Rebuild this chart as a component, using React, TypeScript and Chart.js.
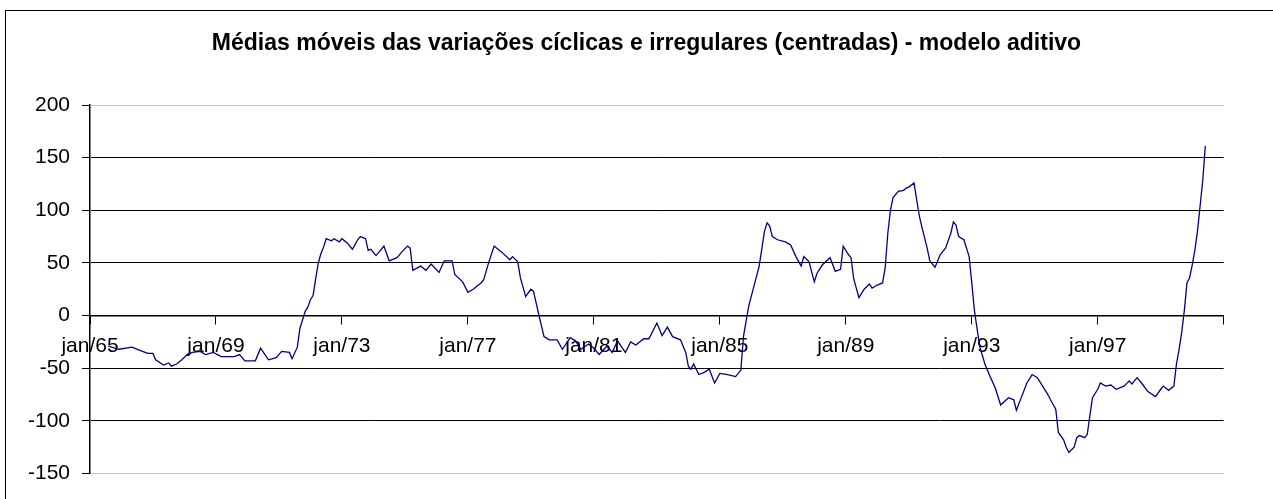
import React, { useEffect, useRef } from 'react';
import { Chart, registerables } from 'chart.js';

Chart.register(...registerables);

const TITLE = 'Médias móveis das variações cíclicas e irregulares (centradas) - modelo aditivo';

// x tick labels, one every 48 months starting jan/65
const tickLabels = ['jan/65', 'jan/69', 'jan/73', 'jan/77', 'jan/81', 'jan/85', 'jan/89', 'jan/93', 'jan/97', ''];

// month index counted from jan/65 (0)
const months = [7, 11, 16, 19, 22, 24, 25, 28, 30, 31, 33, 35, 37, 39, 42, 44, 47, 50, 52, 55, 57, 59, 63, 65, 68, 71, 73, 76, 77, 79, 80, 81, 82, 83, 84, 85, 86, 87, 88, 89, 90, 92, 93, 95, 96, 98, 100, 102, 103, 105, 106, 107, 109, 112, 114, 117, 119, 121, 122, 123, 126, 128, 130, 133, 135, 138, 139, 142, 144, 146, 149, 150, 152, 154, 157, 160, 161, 163, 164, 166, 168, 169, 170, 171, 173, 175, 178, 180, 183, 185, 187, 190, 192, 194, 197, 199, 201, 204, 206, 208, 211, 213, 216, 218, 220, 222, 225, 227, 228, 229, 230, 232, 234, 236, 238, 240, 243, 246, 248, 249, 251, 253, 255, 257, 258, 259, 260, 262, 265, 267, 269, 271, 272, 274, 276, 277, 279, 282, 284, 286, 287, 289, 290, 291, 293, 295, 297, 298, 300, 302, 303, 304, 305, 306, 308, 310, 311, 312, 314, 315, 316, 317, 319, 320, 322, 324, 326, 328, 329, 330, 331, 333, 335, 336, 337, 339, 341, 343, 345, 347, 350, 352, 353, 355, 357, 359, 361, 363, 365, 366, 368, 369, 371, 372, 373, 375, 376, 377, 379, 380, 381, 382, 384, 385, 387, 389, 391, 394, 396, 397, 399, 401, 403, 406, 408, 409, 411, 413, 414, 415, 416, 417, 418, 419, 420, 421, 422, 423, 424, 425];

const values = [-29, -32, -30, -33, -36, -36, -42, -47, -45, -48, -46, -42, -37, -35, -34, -37, -35, -39, -39, -39, -37, -43, -43, -31, -42, -40, -34, -35, -41, -30, -12, -4, 4, 8, 15, 19, 35, 50, 59, 65, 73, 71, 73, 70, 73, 69, 63, 72, 75, 73, 62, 63, 57, 66, 52, 55, 61, 66, 64, 43, 47, 43, 49, 41, 52, 52, 39, 32, 22, 25, 31, 34, 51, 66, 60, 53, 56, 51, 36, 18, 25, 23, 12, 1, -20, -23, -23, -32, -21, -24, -32, -27, -31, -37, -29, -35, -24, -35, -25, -28, -22, -22, -7, -19, -11, -20, -23, -35, -48, -51, -46, -56, -54, -51, -64, -55, -56, -58, -52, -20, 9, 28, 47, 80, 88, 85, 75, 72, 70, 67, 56, 47, 56, 51, 32, 40, 48, 55, 42, 44, 66, 58, 55, 35, 17, 25, 30, 26, 29, 31, 45, 78, 100, 112, 118, 119, 121, 122, 126, 110, 95, 84, 64, 52, 46, 58, 64, 78, 89, 86, 75, 72, 56, 31, 5, -29, -46, -58, -69, -85, -78, -80, -90, -77, -64, -56, -59, -67, -75, -80, -89, -111, -118, -125, -130, -125, -116, -114, -116, -113, -95, -78, -70, -64, -67, -66, -70, -67, -62, -65, -59, -65, -72, -77, -70, -67, -71, -67, -46, -32, -16, 5, 31, 36, 48, 62, 80, 104, 128, 161];

const FONT = "'Liberation Sans', Arial, Helvetica, sans-serif";

export default function App() {
  const ref = useRef<HTMLCanvasElement | null>(null);

  useEffect(() => {
    if (!ref.current) return;
    const data = months.map((m, i) => ({ x: m, y: values[i] }));
    const chart = new Chart(ref.current, {
      type: 'line',
      data: {
        datasets: [
          {
            data,
            borderColor: '#000080',
            borderWidth: 1.3,
            pointRadius: 0,
            tension: 0,
            fill: false,
          },
        ],
      },
      options: {
        animation: false,
        responsive: false,
        layout: { padding: { left: 20, right: 0, top: 0, bottom: 25.5 } },
        plugins: {
          legend: { display: false },
          tooltip: { enabled: false },
          title: {
            display: true,
            text: TITLE,
            color: '#000',
            font: { family: FONT, size: 23, weight: 'bold' },
            padding: { top: 30.2, bottom: 47.2 },
          },
        },
        scales: {
          x: {
            type: 'linear',
            min: 0,
            max: 432,
            position: { y: 0 },
            ticks: {
              stepSize: 48,
              autoSkip: false,
              maxRotation: 0,
              padding: 10,
              color: '#000',
              font: { family: FONT, size: 21 },
              callback: (v: any) => tickLabels[Math.round(Number(v) / 48)] ?? '',
            },
            grid: { drawOnChartArea: false, drawTicks: true, tickLength: 8, color: '#000', lineWidth: 1 },
            border: { display: true, color: '#000', width: 1.5 },
          },
          y: {
            type: 'linear',
            position: 'left',
            min: -150,
            max: 200,
            ticks: {
              stepSize: 50,
              padding: 12,
              color: '#000',
              font: { family: FONT, size: 21 },
            },
            grid: {
              color: (ctx: any) =>
                ctx.tick && (ctx.tick.value === 200 || ctx.tick.value === -150) ? '#c4c4c4' : '#000',
              tickColor: '#000',
              tickLength: 8,
              lineWidth: 1,
            },
            border: { display: true, color: '#000', width: 1.5 },
            afterFit: (s: any) => {
              s.width = 70;
            },
          },
          yR: {
            type: 'linear',
            position: 'right',
            display: true,
            ticks: { display: false },
            grid: { display: false, drawTicks: false },
            border: { display: false },
            afterFit: (s: any) => {
              s.width = 1273 - 1223.7;
            },
          },
        },
      },
    });
    return () => chart.destroy();
  }, []);

  return (
    <div style={{ position: 'absolute', left: 0, top: 0, width: 1273, height: 499, overflow: 'hidden', background: '#fff' }}>
      <div
        style={{
          position: 'absolute',
          left: 5,
          top: 10,
          width: 1290,
          height: 520,
          border: '1.5px solid #000',
          boxSizing: 'border-box',
        }}
      />
      <canvas ref={ref} width={1273} height={499} style={{ position: 'absolute', left: 0, top: 0, width: 1273, height: 499 }} />
    </div>
  );
}
